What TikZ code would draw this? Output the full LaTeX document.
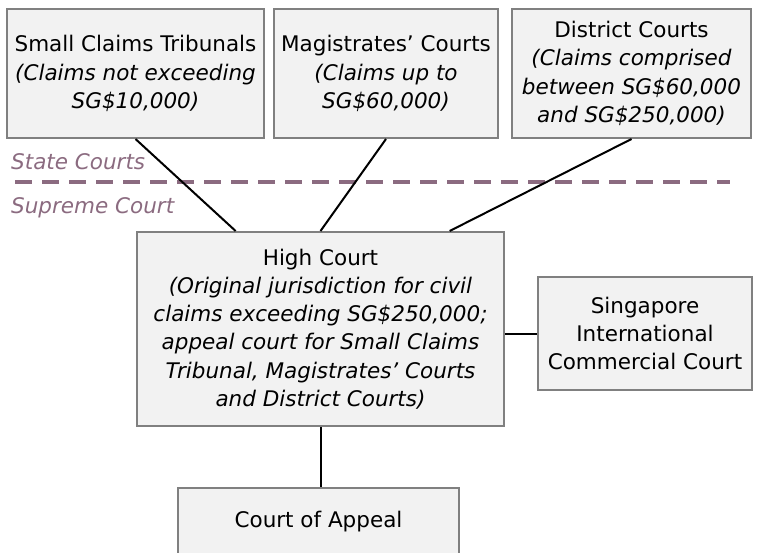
\documentclass[tikz,border=0pt]{standalone}
\usepackage{fontspec}
\setmainfont{DejaVu Sans}
\usetikzlibrary{calc}
\definecolor{boxfill}{RGB}{242,242,242}
\definecolor{boxline}{RGB}{128,128,128}
\definecolor{tier}{RGB}{139,107,128}
\tikzset{court/.style={draw=boxline, fill=boxfill, line width=2pt, inner sep=0pt, align=center}}
\tikzset{link/.style={line width=2pt}}
\tikzset{tierlabel/.style={text=tier, font=\fontsize{21.5}{28}\selectfont\itshape, anchor=base west, inner sep=0pt}}

\begin{document}
\begin{tikzpicture}[x=1pt, y=-1pt, font=\fontsize{21.5}{28.2}\selectfont]
  \useasboundingbox (0,0) rectangle (759,552);
  %
  % state courts
  \node[court, minimum width=257pt, minimum height=129pt] (sct) at (135.5,73.5)
    {Small Claims Tribunals\\\textit{(Claims not exceeding}\\\textit{SG\$10,000)}};
  \node[court, minimum width=224pt, minimum height=129pt] (mag) at (386,73.5)
    {Magistrates’ Courts\\\textit{(Claims up to}\\\textit{SG\$60,000)}};
  \node[court, minimum width=239pt, minimum height=129pt] (dc) at (631.5,73.5)
    {District Courts\\\textit{(Claims comprised}\\\textit{between SG\$60,000}\\\textit{and SG\$250,000)}};
  %
  % divider between the two tiers
  \node[tierlabel] (state) at (11,169) {State Courts};
  \draw[tier, line width=4pt, dash pattern=on 17pt off 10pt] (15,182) -- (730,182);
  \node[tierlabel] (supreme) at (11,213) {Supreme Court};
  %
  % supreme court
  \node[court, minimum width=367pt, minimum height=194pt] (hc) at (320.5,329)
    {High Court\\\textit{(Original jurisdiction for civil}\\\textit{claims exceeding SG\$250,000;}\\
     \textit{appeal court for Small Claims}\\\textit{Tribunal, Magistrates’ Courts}\\\textit{and District Courts)}};
  \node[court, minimum width=214pt, minimum height=113pt] (sicc) at (645,333.5)
    {Singapore\\International\\Commercial Court};
  \node[court, minimum width=281pt, minimum height=68pt] (coa) at (318.5,522)
    {Court of Appeal};
  %
  % connectors
  \draw[link] (sct.south) -- ($(hc.north west)!0.27!(hc.north east)$);
  \draw[link] (mag.south) -- (hc.north);
  \draw[link] (dc.south)  -- ($(hc.north west)!0.85!(hc.north east)$);
  \draw[link] (sicc.west) -- (sicc.west -| hc.east);
  \draw[link] (hc.south)  -- (hc.south |- coa.north);
\end{tikzpicture}
\end{document}
